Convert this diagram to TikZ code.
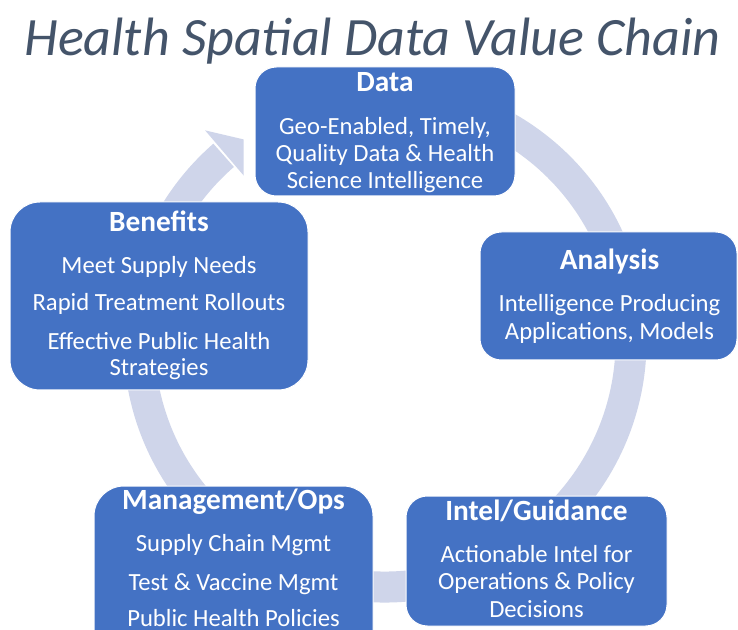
\documentclass[tikz,border=0pt]{standalone}
\usepackage{fontspec}
\setmainfont{Carlito}
\definecolor{boxblue}{HTML}{4472C4}
\definecolor{ringblue}{HTML}{CFD5EA}
\definecolor{titlegray}{HTML}{44546A}
\begin{document}
\begin{tikzpicture}[x=0.75pt,y=0.75pt,
  box/.style={draw=white, line width=0.75pt, fill=boxblue, inner sep=0pt},
  ttl/.style={text=white, font=\fontsize{22}{26}\selectfont\bfseries, anchor=base, inner sep=0pt},
  txt/.style={text=white, font=\fontsize{18.5}{22}\selectfont, anchor=base, inner sep=0pt},
  ringband/.style={draw=ringblue, line width=23.25pt},
  ringhead/.style={fill=ringblue}
]
\useasboundingbox (0,0) rectangle (738,-630);
\fill[white] (0,0) rectangle (738,-630);

% title
\node[font=\fontsize{40.5}{46}\selectfont\itshape, text=titlegray, anchor=base, inner sep=0pt] (title) at (372.5,-56) {Health Spatial Data Value Chain};

% cycle arrow
\coordinate (rc) at (385,-341);
\draw[ringband] ([shift={(100:246)}]rc) arc[start angle=100, end angle=-229, radius=246];
\begin{scope}
  \clip (0,0) rectangle (243.5,-630);
  \fill[ringhead] ([shift={(130.5:277)}]rc) -- ([shift={(125:246)}]rc) -- ([shift={(130.5:215)}]rc) -- cycle;
\end{scope}

% boxes
\node[box, minimum width=195pt, minimum height=96.75pt, rounded corners=16pt] (data) at (385,-131.5) {};
\node[box, minimum width=223.5pt, minimum height=141pt, rounded corners=22.5pt] (benefits) at (159,-296) {};
\node[box, minimum width=192.75pt, minimum height=96pt, rounded corners=16pt] (analysis) at (608.5,-296) {};
\node[box, minimum width=195.75pt, minimum height=97.5pt, rounded corners=16pt] (intel) at (536.5,-561) {};
\node[box, minimum width=209.25pt, minimum height=141pt, rounded corners=22.5pt] (mgmt) at (233.5,-580) {};

% Data
\node[ttl] (datat) at (385,-92) {Data};
\node[txt] (data1) at (385,-135) {Geo-Enabled, Timely,};
\node[txt] (data2) at (385,-161.7) {Quality Data \& Health};
\node[txt] (data3) at (385,-188.3) {Science Intelligence};

% Benefits
\node[ttl] (bent) at (159,-231.7) {Benefits};
\node[txt] (ben1) at (159,-273.3) {Meet Supply Needs};
\node[txt] (ben2) at (159,-310.7) {Rapid Treatment Rollouts};
\node[txt] (ben3) at (159,-349.3) {Effective Public Health};
\node[txt] (ben4) at (159,-376) {Strategies};

% Analysis
\node[ttl] (anat) at (609.5,-270) {Analysis};
\node[txt] (ana1) at (609.5,-311.7) {Intelligence Producing};
\node[txt] (ana2) at (609.5,-339.3) {Applications, Models};

% Intel/Guidance
\node[ttl] (intt) at (536.5,-520.7) {Intel/Guidance};
\node[txt] (int1) at (536.5,-562.7) {Actionable Intel for};
\node[txt] (int2) at (536.5,-589.3) {Operations \& Policy};
\node[txt] (int3) at (536.5,-617.3) {Decisions};

% Management/Ops
\node[ttl] (mgmtt) at (233.5,-509.3) {Management/Ops};
\node[txt] (mgm1) at (233.5,-551.7) {Supply Chain Mgmt};
\node[txt] (mgm2) at (233.5,-590) {Test \& Vaccine Mgmt};
\node[txt] (mgm3) at (233.5,-626.7) {Public Health Policies};
\end{tikzpicture}
\end{document}
